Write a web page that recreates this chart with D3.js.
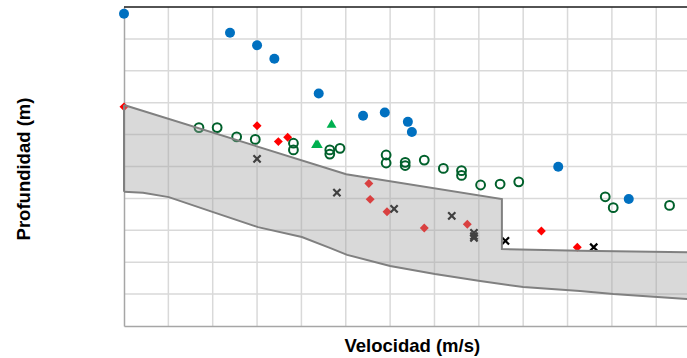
<!DOCTYPE html>
<html>
<head>
<meta charset="utf-8">
<script src="https://cdn.jsdelivr.net/npm/d3@7"></script>
<style>
  html, body { margin: 0; padding: 0; background: #ffffff; }
  svg { display: block; }
  text { font-family: "Liberation Sans", Arial, sans-serif; font-weight: bold; fill: #000; }
</style>
</head>
<body>
<svg id="chart" width="687" height="358"></svg>
<script>
// Velocity (m/s) and depth (m) readings per measurement series
const seriesBlue = [
  [0, 0.21], [239, 0.81], [300, 1.20], [339, 1.62], [439, 2.71], [539, 3.41],
  [588, 3.31], [640, 3.60], [649, 3.92], [979, 5.01], [1138, 6.02]
];
const seriesGreenOpen = [
  [169, 3.78], [210, 3.78], [254, 4.07], [296, 4.15], [382, 4.27], [382, 4.48],
  [464, 4.48], [464, 4.61], [487, 4.43], [591, 4.64], [591, 4.89], [634, 4.87],
  [634, 4.97], [677, 4.80], [720, 5.06], [761, 5.13], [761, 5.28], [804, 5.58],
  [848, 5.55], [890, 5.48], [1085, 5.95], [1103, 6.29], [1230, 6.22]
];
const seriesGreenTri = [[468, 3.70], [433, 4.33], [437, 4.33]];
const seriesRed = [
  [0, 3.13], [300, 3.72], [348, 4.22], [369, 4.08], [552, 5.53], [555, 6.03],
  [593, 6.42], [677, 6.93], [774, 6.81], [941, 7.02], [1022, 7.53]
];
const seriesCross = [
  [300, 4.76], [480, 5.82], [609, 6.33], [739, 6.55], [789, 7.08], [789, 7.18],
  [789, 7.24], [860, 7.33], [1059, 7.53]
];

// Reference band: upper and lower depth limits versus velocity
const bandUpper = [
  [0, 3.07], [501, 5.24], [852, 6.02], [852, 7.59], [1028, 7.64], [1269, 7.69], [1300, 7.70]
];
const bandLower = [
  [0, 5.79], [43, 5.82], [101, 5.96], [201, 6.43], [302, 6.90], [401, 7.21],
  [464, 7.55], [503, 7.77], [600, 8.12], [701, 8.37], [803, 8.59], [900, 8.78],
  [1028, 8.90], [1103, 9.00], [1269, 9.15], [1300, 9.17]
];

const velocityTicks = d3.range(0, 1301, 100);
const depthTicks = d3.range(0, 10.01, 1);
const xTitle = "Velocidad (m/s)";
const yTitle = "Profundidad (m)";

const svg = d3.select("#chart");
const x = d3.scaleLinear().domain([0, 1300]).range([124, 700.6]);
const y = d3.scaleLinear().domain([0, 10]).range([7, 326]);

// grid
const grid = svg.append("g");
grid.selectAll("line.v").data(velocityTicks.slice(1)).join("line")
  .attr("x1", d => x(d)).attr("x2", d => x(d))
  .attr("y1", y(0)).attr("y2", y(10))
  .attr("stroke", "#d9d9d9").attr("stroke-width", 1.5);
grid.selectAll("line.h").data(depthTicks.slice(1, -1)).join("line")
  .attr("x1", x(0)).attr("x2", x(1300))
  .attr("y1", d => y(d)).attr("y2", d => y(d))
  .attr("stroke", "#d9d9d9").attr("stroke-width", 1.5);

// axes (no tick labels)
const xAxis = d3.axisBottom(x).tickValues([]).tickSizeOuter(0);
const yAxis = d3.axisLeft(y).tickValues([]).tickSizeOuter(0);
svg.append("g").attr("transform", `translate(0,${y(10)})`).call(xAxis)
  .select(".domain").attr("stroke", "#a6a6a6").attr("stroke-width", 1.5);
svg.append("g").attr("transform", `translate(${x(0)},0)`).call(yAxis)
  .select(".domain").attr("stroke", "#a6a6a6").attr("stroke-width", 1.5);
svg.append("line")
  .attr("x1", x(0)).attr("x2", x(1300)).attr("y1", y(0)).attr("y2", y(0))
  .attr("stroke", "#1a1a1a").attr("stroke-width", 1.6);

// markers
const marks = svg.append("g");
marks.selectAll("circle.blue").data(seriesBlue).join("circle")
  .attr("cx", d => x(d[0])).attr("cy", d => y(d[1])).attr("r", 5)
  .attr("fill", "#0070c0");
marks.selectAll("circle.open").data(seriesGreenOpen).join("circle")
  .attr("cx", d => x(d[0])).attr("cy", d => y(d[1])).attr("r", 4.4)
  .attr("fill", "none").attr("stroke", "#00602b").attr("stroke-width", 2);
const tri = d3.symbol().type(d3.symbolTriangle).size(42);
marks.selectAll("path.tri").data(seriesGreenTri).join("path")
  .attr("d", tri)
  .attr("transform", d => `translate(${x(d[0])},${y(d[1])})`)
  .attr("fill", "#00b050");
const dia = d3.symbol().type(d3.symbolSquare).size(40);
marks.selectAll("path.dia").data(seriesRed).join("path")
  .attr("d", dia)
  .attr("transform", d => `translate(${x(d[0])},${y(d[1])}) rotate(45)`)
  .attr("fill", "#ff0000");
marks.selectAll("path.cross").data(seriesCross).join("path")
  .attr("d", "M-3.6,-3.6L3.6,3.6M-3.6,3.6L3.6,-3.6")
  .attr("transform", d => `translate(${x(d[0])},${y(d[1])})`)
  .attr("fill", "none").attr("stroke", "#000").attr("stroke-width", 2.2);

// translucent reference band drawn over the markers
const bandPts = bandUpper.concat(bandLower.slice().reverse());
const bandLine = d3.line().x(d => x(d[0])).y(d => y(d[1]));
svg.append("path")
  .attr("d", bandLine(bandPts) + "Z")
  .attr("fill", "rgb(160,160,160)").attr("fill-opacity", 0.4)
  .attr("stroke", "none");
svg.append("path")
  .attr("d", bandLine(bandUpper))
  .attr("fill", "none").attr("stroke", "#808080").attr("stroke-width", 2);
svg.append("path")
  .attr("d", bandLine(bandLower))
  .attr("fill", "none").attr("stroke", "#808080").attr("stroke-width", 2);
svg.append("line")
  .attr("x1", x(0)).attr("x2", x(0))
  .attr("y1", y(bandUpper[0][1])).attr("y2", y(bandLower[0][1]))
  .attr("stroke", "#808080").attr("stroke-width", 2);

// titles
svg.append("text")
  .attr("x", (x(0) + x(1300)) / 2).attr("y", 352)
  .attr("text-anchor", "middle").attr("font-size", 18.5)
  .text(xTitle);
svg.append("text")
  .attr("transform", `translate(30,169) rotate(-90)`)
  .attr("text-anchor", "middle").attr("font-size", 18.5)
  .text(yTitle);
</script>
</body>
</html>
